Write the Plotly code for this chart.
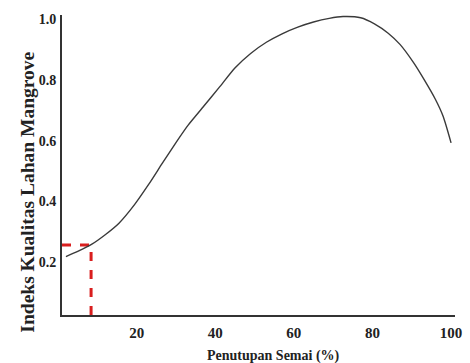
import plotly.graph_objects as go

# Data
cover = [2, 5, 8.5, 12, 15.5, 19.5, 23, 26.5, 30, 33, 37, 41, 45, 49, 53, 57, 61, 65, 69,
         72.5, 77, 80.5, 84, 87, 90.5, 93, 96, 98, 100]
index_val = [0.218, 0.235, 0.258, 0.29, 0.328, 0.39, 0.455, 0.525, 0.594, 0.65, 0.713, 0.776,
             0.84, 0.888, 0.925, 0.953, 0.975, 0.992, 1.004, 1.01, 1.006, 0.986, 0.955, 0.918,
             0.857, 0.805, 0.737, 0.68, 0.593]

marker_x = 8.4
marker_y = 0.256
x_ticks = [20, 40, 60, 80, 100]
y_ticks = [0.2, 0.4, 0.6, 0.8, 1.0]
y_tick_text = ["0.2", "0.4", "0.6", "0.8", "1.0"]

fig = go.Figure()

# red dashed guide lines
fig.add_trace(go.Scatter(x=[1, marker_x, marker_x], y=[marker_y, marker_y, 0.025],
                         mode="lines", line=dict(color="#d91e1e", width=3, dash="dash"),
                         hoverinfo="skip", showlegend=False))

fig.add_trace(go.Scatter(x=cover, y=index_val, mode="lines",
                         line=dict(color="#3a3a3a", width=1.4, shape="spline", smoothing=0.6),
                         showlegend=False))

serif = "Liberation Serif, Times New Roman, serif"

fig.update_layout(
    width=470, height=363,
    margin=dict(l=62, r=8, t=15, b=48),
    paper_bgcolor="white", plot_bgcolor="white",
    font=dict(family=serif, color="#222"),
    xaxis=dict(range=[1, 101], showgrid=False, zeroline=False,
               showline=True, linecolor="#333", linewidth=2,
               tickmode="array", tickvals=x_ticks, ticktext=[str(v) for v in x_ticks],
               ticks="", ticklabelstandoff=3,
               tickfont=dict(family=serif, size=15, color="#222", weight="bold")),
    yaxis=dict(range=[0.025, 1.015], showgrid=False, zeroline=False,
               showline=True, linecolor="#333", linewidth=2,
               tickmode="array", tickvals=y_ticks, ticktext=y_tick_text,
               ticks="", ticklabelstandoff=1,
               tickfont=dict(family=serif, size=14, color="#222", weight="bold")),
    annotations=[
        dict(text="<b>Indeks Kualitas Lahan Mangrove</b>", xref="paper", yref="paper",
             x=-0.09, y=0.41, textangle=-90, showarrow=False,
             font=dict(family=serif, size=19.5, color="#222"),
             xanchor="center", yanchor="middle"),
        dict(text="<b>Penutupan Semai (%)</b>", xref="paper", yref="paper",
             x=0.5375, y=-0.137, showarrow=False,
             font=dict(family=serif, size=14, color="#222"),
             xanchor="center", yanchor="middle"),
    ],
)

fig.write_html("out.html", config={"displayModeBar": False},
               post_script="document.body.style.margin='0';")
